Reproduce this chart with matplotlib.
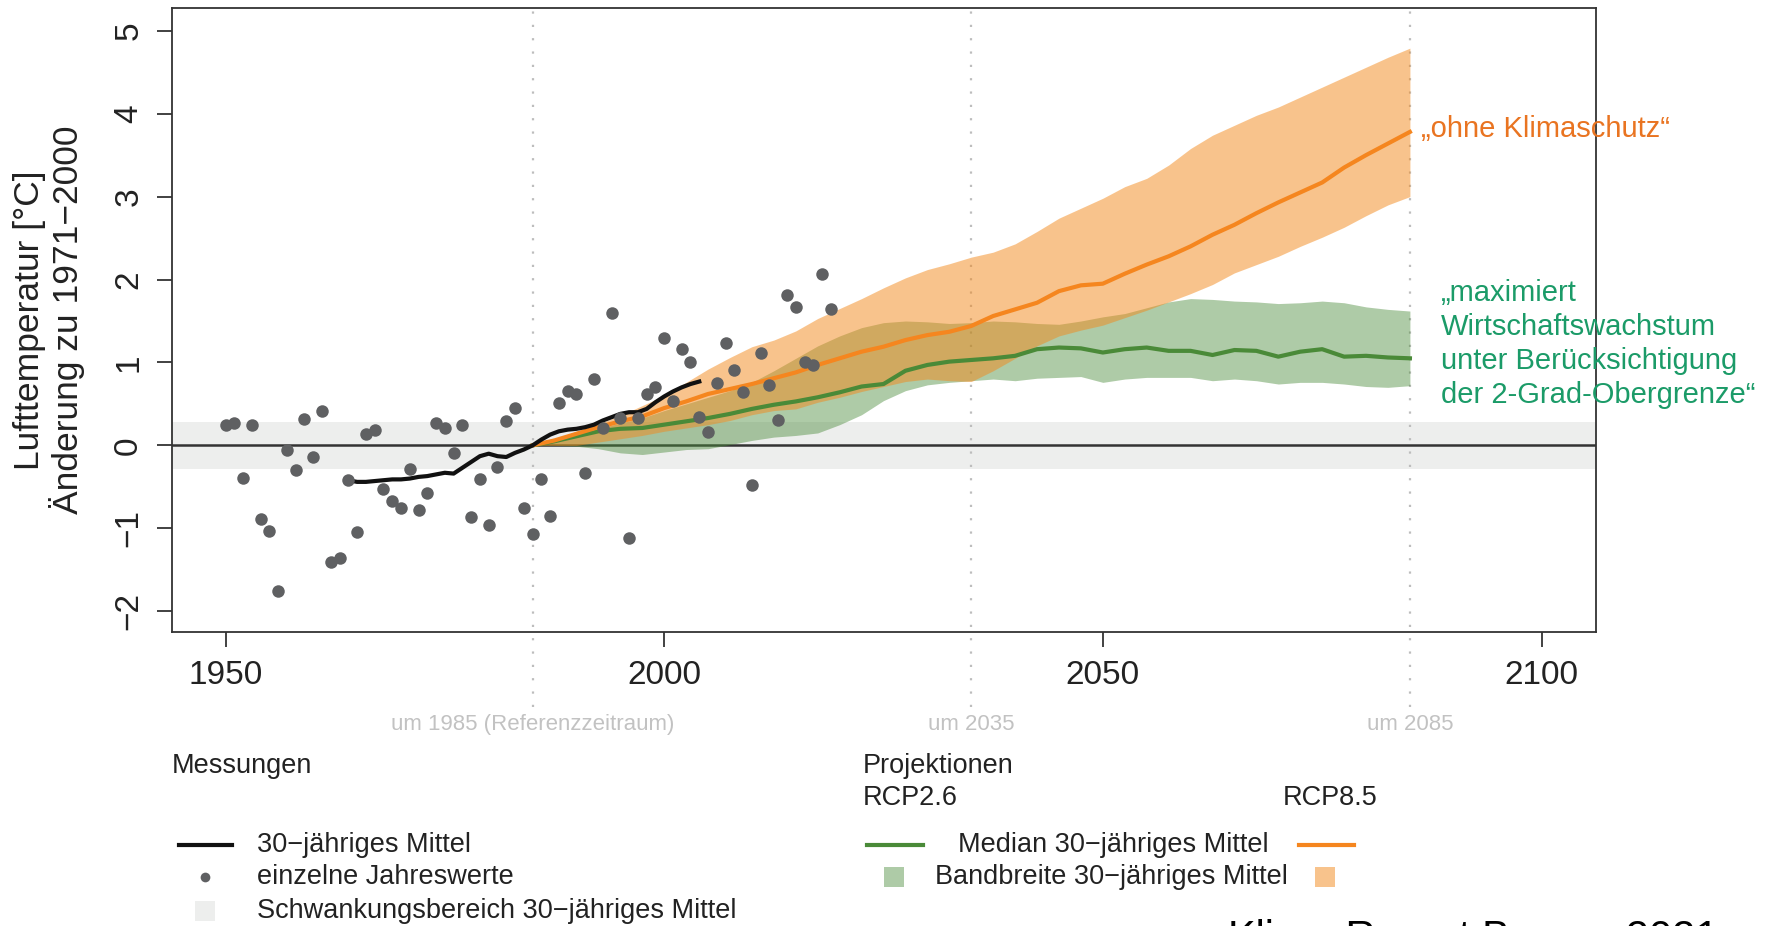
"""
Klima-Report Bayern 2021: Lufttemperatur, Messungen und Projektionen
"""
import numpy as np
import matplotlib
matplotlib.use("Agg")
import matplotlib.pyplot as plt
from matplotlib.transforms import blended_transform_factory
from matplotlib.patches import Rectangle
from matplotlib.lines import Line2D

plt.rcParams['font.family'] = ['Liberation Sans', 'DejaVu Sans']

# einzelne Jahreswerte (Abweichung zu 1971-2000)
obs_years = list(range(1950, 2020))
obs_vals = [0.24, 0.27, -0.39, 0.24, -0.89, -1.03, -1.76, -0.06, -0.30, 0.32,
            -0.14, 0.41, -1.41, -1.36, -0.42, -1.04, 0.14, 0.19, -0.52, -0.67,
            -0.75, -0.29, -0.78, -0.58, 0.27, 0.21, -0.09, 0.25, -0.86, -0.41,
            -0.96, -0.26, 0.29, 0.45, -0.76, -1.07, -0.41, -0.85, 0.51, 0.66,
            0.62, -0.33, 0.80, 0.21, 1.60, 0.33, -1.12, 0.33, 0.62, 0.71,
            1.30, 0.53, 1.16, 1.01, 0.34, 0.16, 0.75, 1.24, 0.91, 0.64,
            -0.48, 1.12, 0.73, 0.31, 1.81, 1.67, 1.01, 0.97, 2.07, 1.65]

# 30-jaehriges Mittel der Messungen
mean_years = list(range(1964, 2005))
mean_vals = [-0.42, -0.44, -0.44, -0.43, -0.42, -0.41, -0.41, -0.40, -0.38, -0.37,
             -0.35, -0.33, -0.34, -0.27, -0.20, -0.13, -0.10, -0.13, -0.14, -0.09,
             -0.05, 0.00, 0.07, 0.13, 0.17, 0.19, 0.20, 0.22, 0.25, 0.30,
             0.34, 0.38, 0.40, 0.40, 0.44, 0.52, 0.59, 0.65, 0.70, 0.74, 0.77]

schwankung = 0.28  # Schwankungsbereich +/-

# Projektionen (30-jaehrige Mittel)
proj_years = [1985 + 2.5 * i for i in range(41)]

rcp85_med = [0.00, 0.06, 0.14, 0.22, 0.29, 0.35, 0.45, 0.53, 0.62, 0.68,
             0.74, 0.81, 0.88, 0.97, 1.05, 1.13, 1.19, 1.27, 1.33, 1.37,
             1.44, 1.56, 1.64, 1.72, 1.86, 1.93, 1.95, 2.07, 2.18, 2.28,
             2.40, 2.54, 2.66, 2.80, 2.93, 3.05, 3.17, 3.35, 3.50, 3.64, 3.78]
rcp85_hi = [0.00, 0.08, 0.17, 0.26, 0.36, 0.48, 0.60, 0.76, 0.92, 1.06,
            1.19, 1.27, 1.38, 1.53, 1.65, 1.77, 1.90, 2.02, 2.12, 2.19,
            2.27, 2.33, 2.43, 2.58, 2.74, 2.86, 2.98, 3.12, 3.22, 3.38,
            3.58, 3.74, 3.86, 3.98, 4.08, 4.20, 4.32, 4.44, 4.56, 4.68, 4.79]
rcp85_lo = [0.00, 0.00, 0.00, 0.04, 0.08, 0.12, 0.17, 0.21, 0.25, 0.30,
            0.37, 0.42, 0.44, 0.52, 0.58, 0.65, 0.71, 0.77, 0.80, 0.78,
            0.77, 0.90, 1.05, 1.20, 1.32, 1.39, 1.45, 1.54, 1.63, 1.73,
            1.83, 1.94, 2.08, 2.18, 2.28, 2.40, 2.51, 2.63, 2.77, 2.90, 3.00]

rcp26_med = [0.00, 0.05, 0.11, 0.17, 0.20, 0.21, 0.25, 0.29, 0.33, 0.38,
             0.44, 0.49, 0.53, 0.58, 0.64, 0.71, 0.74, 0.90, 0.97, 1.01,
             1.03, 1.05, 1.08, 1.16, 1.18, 1.17, 1.12, 1.16, 1.18, 1.14,
             1.14, 1.09, 1.15, 1.14, 1.07, 1.13, 1.16, 1.07, 1.08, 1.06, 1.05]
rcp26_hi = [0.00, 0.05, 0.12, 0.20, 0.27, 0.33, 0.42, 0.50, 0.58, 0.66,
            0.76, 0.90, 1.05, 1.20, 1.32, 1.42, 1.48, 1.50, 1.49, 1.47,
            1.48, 1.50, 1.49, 1.47, 1.46, 1.50, 1.55, 1.59, 1.66, 1.73,
            1.77, 1.76, 1.74, 1.73, 1.71, 1.72, 1.74, 1.72, 1.67, 1.64, 1.62]
rcp26_lo = [0.00, 0.00, -0.01, -0.04, -0.09, -0.11, -0.08, -0.05, -0.04, 0.01,
            0.06, 0.10, 0.12, 0.15, 0.25, 0.37, 0.54, 0.66, 0.73, 0.76,
            0.78, 0.80, 0.78, 0.81, 0.82, 0.83, 0.76, 0.80, 0.82, 0.82,
            0.82, 0.78, 0.80, 0.78, 0.74, 0.76, 0.76, 0.74, 0.71, 0.70, 0.72]

marker_years = [1985, 2035, 2085]
marker_labels = ["um 1985 (Referenzzeitraum)", "um 2035", "um 2085"]
xticks = [1950, 2000, 2050, 2100]
yticks = [-2, -1, 0, 1, 2, 3, 4, 5]

c_orange = '#F3891B'
c_orange_line = '#F5861F'
c_green = '#4C8C3C'
c_green_line = '#4A8A38'
c_dot = '#5F6062'
c_axis = '#333333'

fig = plt.figure(figsize=(17.75, 9.26), dpi=100)
ax = fig.add_axes([0.0969, 0.3175, 0.8022, 0.6735])

ax.axhspan(-schwankung, schwankung, color='#EDEEED', lw=0, zorder=0)
ax.axhline(0, color=c_axis, lw=1.8, zorder=1)

for yr in marker_years:
    ax.axvline(yr, ymin=-0.12, ymax=1, clip_on=False, color='#BDBDBD',
               lw=1.6, ls=(0, (1, 5)), zorder=1)

ax.fill_between(proj_years, rcp26_lo, rcp26_hi, color=c_green, alpha=0.45, lw=0, zorder=2)
ax.fill_between(proj_years, rcp85_lo, rcp85_hi, color=c_orange, alpha=0.5, lw=0, zorder=3)
ax.plot(proj_years, rcp26_med, color=c_green_line, lw=3, zorder=4)
ax.plot(proj_years, rcp85_med, color=c_orange_line, lw=3, zorder=5)
ax.plot(mean_years, mean_vals, color='#111111', lw=3, zorder=6)
ax.plot(obs_years, obs_vals, 'o', color=c_dot, ms=9, mew=0, zorder=7)

ax.set_xlim(1943.9, 2106.2)
ax.set_ylim(-2.25, 5.27)
ax.set_xticks(xticks)
ax.set_yticks(yticks)
ax.set_yticklabels([str(v).replace('-', '\u2212') for v in yticks], rotation=90, va='center')
ax.tick_params(length=11, width=1.3, color=c_axis, labelsize=24, pad=9, labelcolor='#222222')
for s in ax.spines.values():
    s.set_color(c_axis)
    s.set_linewidth(1.3)

ax.set_ylabel("Lufttemperatur [°C]\nÄnderung zu 1971\u22122000", fontsize=25.5,
              color='#222222', linespacing=1.12, labelpad=20)

trans = blended_transform_factory(ax.transData, ax.transAxes)
for yr, lab in zip(marker_years, marker_labels):
    ax.text(yr, -0.148, lab, transform=trans, ha='center', va='center',
            fontsize=16, color='#C2C2C2')

# Beschriftung rechts
fig.text(0.8004, 0.8607, "\u201eohne Klimaschutz\u201c", fontsize=21,
         color='#E97421', va='center', ha='left')
fig.text(0.8119, 0.6285, "\u201emaximiert\nWirtschaftswachstum\nunter Berücksichtigung\n"
         "der 2-Grad-Obergrenze\u201c", fontsize=21, color='#1B9B68',
         va='center', ha='left', linespacing=1.27)

# Legende (von Hand, wie im Original)
tc = '#222222'
fs = 19.5
fig.text(0.097, 0.173, "Messungen", fontsize=fs, color=tc, va='center')
fig.text(0.486, 0.173, "Projektionen", fontsize=fs, color=tc, va='center')
fig.text(0.486, 0.138, "RCP2.6", fontsize=fs, color=tc, va='center')
fig.text(0.7226, 0.138, "RCP8.5", fontsize=fs, color=tc, va='center')

r1, r2, r3 = 0.088, 0.0526, 0.0159
fig.add_artist(Line2D([0.1008, 0.1307], [r1, r1], transform=fig.transFigure,
                      color='#111111', lw=3))
fig.text(0.1447, r1, "30\u2212jähriges Mittel", fontsize=fs, color=tc, va='center')
fig.add_artist(Line2D([0.1154], [r2], transform=fig.transFigure, marker='o',
                      color=c_dot, ms=7, mew=0))
fig.text(0.1447, r2, "einzelne Jahreswerte", fontsize=fs, color=tc, va='center')
sq_w, sq_h = 20 / 1775, 20 / 926
fig.add_artist(Rectangle((0.1154 - sq_w / 2, r3 - sq_h / 2), sq_w, sq_h,
                         transform=fig.transFigure, color='#EDEEED', lw=0))
fig.text(0.1447, r3, "Schwankungsbereich 30\u2212jähriges Mittel", fontsize=fs,
         color=tc, va='center')

fig.add_artist(Line2D([0.4885, 0.5198], [r1, r1], transform=fig.transFigure,
                      color=c_green_line, lw=3))
fig.text(0.5395, r1, "Median 30\u2212jähriges Mittel", fontsize=fs, color=tc, va='center')
fig.add_artist(Line2D([0.7321, 0.7628], [r1, r1], transform=fig.transFigure,
                      color=c_orange_line, lw=3))
fig.add_artist(Rectangle((0.5038 - sq_w / 2, r2 - sq_h / 2), sq_w, sq_h,
                         transform=fig.transFigure, color=c_green, alpha=0.45, lw=0))
fig.text(0.5268, r2, "Bandbreite 30\u2212jähriges Mittel", fontsize=fs, color=tc, va='center')
fig.add_artist(Rectangle((0.7462 - sq_w / 2, r2 - sq_h / 2), sq_w, sq_h,
                         transform=fig.transFigure, color=c_orange, alpha=0.5, lw=0))

# Quellenangabe, im Original am unteren Rand abgeschnitten
fig.text(0.692, -0.026, "Klima-Report Bayern 2021", fontsize=30, color='black',
         va='baseline', ha='left')

fig.savefig('out.png', dpi=100)
